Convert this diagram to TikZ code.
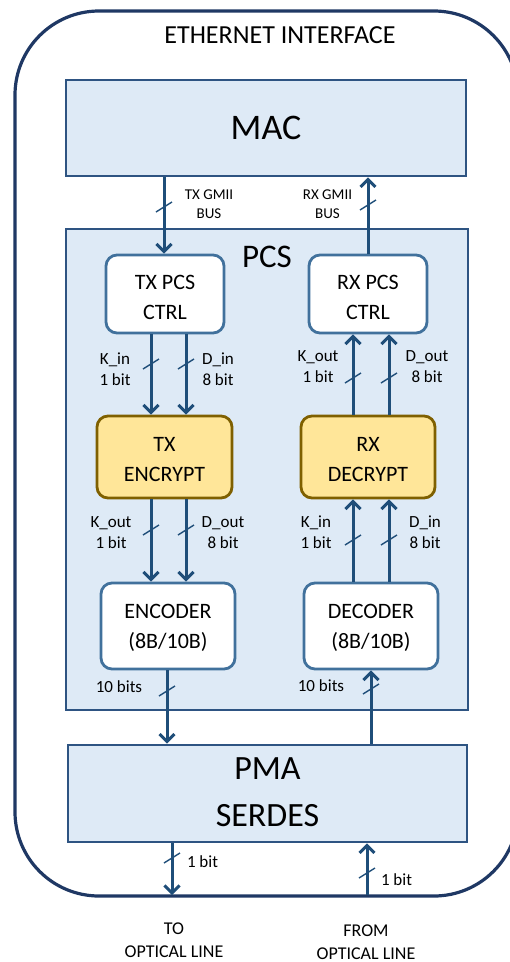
\documentclass[tikz,border=0pt]{standalone}
\usepackage{fontspec}
\setmainfont{Carlito}
\usetikzlibrary{arrows.meta,calc}
\definecolor{outerc}{RGB}{31,56,100}
\definecolor{boxc}{RGB}{46,84,130}
\definecolor{fillc}{RGB}{222,234,246}
\definecolor{wboxc}{RGB}{65,113,156}
\definecolor{arrc}{RGB}{31,78,121}
\definecolor{yelf}{RGB}{255,230,153}
\definecolor{yeld}{RGB}{127,96,0}
\newcommand\fsz[2]{\fontsize{#1}{#2}\selectfont}
\newcommand\busmark[2]{\draw[busline] (#1-8,#2+5) -- (#1+8,#2-5);}
\tikzset{
  bigbox/.style={draw=boxc, fill=fillc, line width=2.6pt, inner sep=0pt, align=center},
  wbox/.style={draw=wboxc, fill=white, line width=2.8pt, rounded corners=11pt, inner sep=0pt},
  ybox/.style={draw=yeld, fill=yelf, line width=2.8pt, rounded corners=11pt, inner sep=0pt},
  btxt/.style={inner sep=0pt, align=center, font=\fsz{22}{30}},
  arr/.style={draw=arrc, line width=3pt, -{Straight Barb[length=7.5pt,width=15pt,line width=3pt]}},
  busline/.style={draw=arrc, line width=1.4pt},
  lbl/.style={inner sep=0pt, align=center, font=\fsz{17}{21}},
  gmii/.style={inner sep=0pt, align=center, font=\fsz{15}{19}},
}
\begin{document}
\begin{tikzpicture}[x=1pt,y=-1pt]
\useasboundingbox (0,0) rectangle (510,962);
\clip (0,0) rectangle (510,962);
% outer frame
\draw[outerc, line width=3.2pt, rounded corners=84pt] (15,11) rectangle (518,896);
\node[inner sep=0pt, font=\fsz{26}{30}] (eth) at (280,35) {ETHERNET INTERFACE};

% main boxes
\node[bigbox, minimum width=400pt, minimum height=96pt, font=\fsz{36}{40}] (mac) at (266,128) {MAC};
\node[bigbox, minimum width=402pt, minimum height=481pt] (pcs) at (267,469.5) {};
\node[inner sep=0pt, font=\fsz{33}{36}] (pcslbl) at (267,257) {PCS};
\node[bigbox, minimum width=399pt, minimum height=97pt] (pma) at (267.5,793.5) {};
\node[inner sep=0pt, align=center, font=\fsz{34}{47}] (pmat) at (267.5,792) {PMA\\SERDES};

% inner boxes
\node[wbox, minimum width=118pt, minimum height=78pt] (txctrl) at (165,294) {};
\node[btxt] (txctrlt) at (165,297) {TX PCS\\CTRL};
\node[wbox, minimum width=118pt, minimum height=78pt] (rxctrl) at (368,294) {};
\node[btxt] (rxctrlt) at (368,297) {RX PCS\\CTRL};
\node[ybox, minimum width=135pt, minimum height=82pt] (txenc) at (164.5,457) {};
\node[btxt] (txenct) at (164.5,459.5) {TX\\ENCRYPT};
\node[ybox, minimum width=134pt, minimum height=82pt] (rxdec) at (368,457) {};
\node[btxt] (rxdect) at (368,459.5) {RX\\DECRYPT};
\node[wbox, minimum width=134pt, minimum height=86pt] (enc) at (168,626) {};
\node[btxt] (enct) at (168,627.5) {ENCODER\\(8B/10B)};
\node[wbox, minimum width=134pt, minimum height=86pt] (dec) at (371,626) {};
\node[btxt] (dect) at (371,627.5) {DECODER\\(8B/10B)};

% x positions of the connectors
\coordinate (xg1) at (164,0);
\coordinate (xg2) at (368,0);
\coordinate (xt1) at (151,0);
\coordinate (xt2) at (186,0);
\coordinate (xr1) at (353,0);
\coordinate (xr2) at (389,0);
\coordinate (xe) at (167,0);
\coordinate (xd) at (371,0);
\coordinate (xo1) at (172,0);
\coordinate (xo2) at (367,0);
\coordinate (bot) at (0,895);

% GMII buses
\draw[arr] (mac.south -| xg1) -- (txctrl.north -| xg1);
\draw[arr] (rxctrl.north -| xg2) -- (mac.south -| xg2);
\busmark{164}{207}
\busmark{368}{205}
\node[gmii] (tgl) at (209,204) {TX GMII\\BUS};
\node[gmii] (rgl) at (327.5,204) {RX GMII\\BUS};

% TX ctrl -> encrypt
\draw[arr] (txctrl.south -| xt1) -- (txenc.north -| xt1);
\draw[arr] (txctrl.south -| xt2) -- (txenc.north -| xt2);
\busmark{151}{364}
\busmark{186}{364}
\node[lbl] (l1) at (115,369) {K\_in\\1 bit};
\node[lbl] (l2) at (218,369) {D\_in\\8 bit};

% RX decrypt -> ctrl
\draw[arr] (rxdec.north -| xr1) -- (rxctrl.south -| xr1);
\draw[arr] (rxdec.north -| xr2) -- (rxctrl.south -| xr2);
\busmark{353}{378}
\busmark{389}{378}
\node[lbl] (l3) at (318,367) {K\_out\\1 bit};
\node[lbl] (l4) at (427,367) {D\_out\\8 bit};

% encrypt -> encoder
\draw[arr] (txenc.south -| xt1) -- (enc.north -| xt1);
\draw[arr] (txenc.south -| xt2) -- (enc.north -| xt2);
\busmark{151}{530}
\busmark{186}{530}
\node[lbl] (l5) at (111,533) {K\_out\\1 bit};
\node[lbl] (l6) at (223,533) {D\_out\\8 bit};

% decoder -> decrypt
\draw[arr] (dec.north -| xr1) -- (rxdec.south -| xr1);
\draw[arr] (dec.north -| xr2) -- (rxdec.south -| xr2);
\busmark{353}{540}
\busmark{389}{540}
\node[lbl] (l7) at (316,532) {K\_in\\1 bit};
\node[lbl] (l8) at (425,532) {D\_in\\8 bit};

% 10 bits
\draw[arr] (enc.south -| xe) -- (pma.north -| xe);
\draw[arr] (pma.north -| xd) -- (dec.south -| xd);
\busmark{167}{691}
\busmark{371}{689}
\node[lbl] (l9) at (119,687) {10 bits};
\node[lbl] (l10) at (321,686) {10 bits};

% serial line
\draw[arr] (pma.south -| xo1) -- (bot -| xo1);
\draw[arr] (bot -| xo2) -- (pma.south -| xo2);
\busmark{172}{858}
\busmark{367}{873}
\node[lbl] (l11) at (202.5,862) {1 bit};
\node[lbl] (l12) at (396.5,880) {1 bit};

\node[inner sep=0pt, align=center, font=\fsz{18}{23}] (to) at (174,940) {TO\\OPTICAL LINE};
\node[inner sep=0pt, align=center, font=\fsz{18}{23}] (from) at (366,942) {FROM\\OPTICAL LINE};
\end{tikzpicture}
\end{document}
